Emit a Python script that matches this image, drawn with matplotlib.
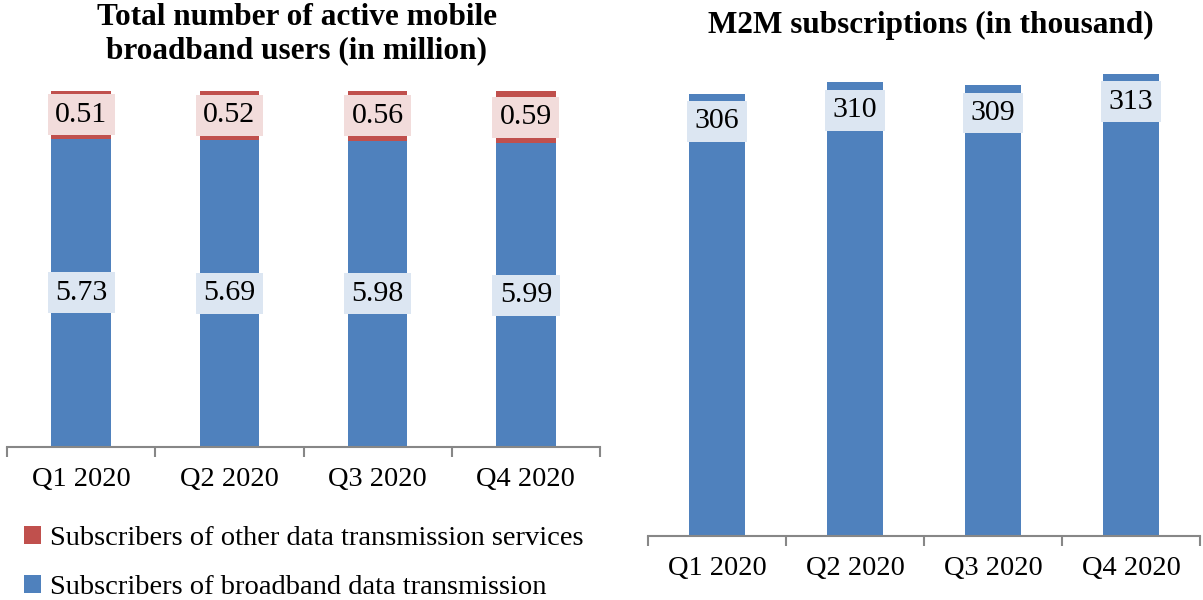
import matplotlib
matplotlib.use("Agg")
import matplotlib.pyplot as plt
import numpy as np

quarters = ["Q1 2020", "Q2 2020", "Q3 2020", "Q4 2020"]
broadband = [5.73, 5.69, 5.98, 5.99]   # million
other_data = [0.51, 0.52, 0.56, 0.59]  # million
m2m = [306, 310, 309, 313]             # thousand

BLUE = "#4f81bd"
RED = "#c0504d"
BLUE_BOX = "#dce6f2"
RED_BOX = "#f2dcdb"
AXIS_GREY = "#878787"
FONT = "Liberation Serif"
FS = 20.5
LABEL_FS = 21.5
TITLE_FS = 22.5

plt.rcParams["font.family"] = [FONT, "DejaVu Serif"]

fig = plt.figure(figsize=(12.03, 6.0), dpi=100)
W, H = 1203, 600

def style_axis(ax):
    ax.set_xlim(-0.5, len(quarters) - 0.5)
    for s in ("left", "right", "top"):
        ax.spines[s].set_visible(False)
    ax.spines["bottom"].set_color(AXIS_GREY)
    ax.spines["bottom"].set_linewidth(1.5)
    ax.set_yticks([])
    ax.set_xticks(range(len(quarters)))
    ax.set_xticklabels(quarters, fontsize=FS)
    ax.tick_params(axis="x", which="major", length=0, pad=14.5)
    ax.set_xticks(np.arange(-0.5, len(quarters)), minor=True)
    ax.tick_params(axis="x", which="minor", length=7, width=1.5, color=AXIS_GREY)

# --- left: stacked shares of mobile broadband users ---
ax1 = fig.add_axes([7 / W, 1 - 447 / H, (600 - 7) / W, (447 - 91) / H])
x = np.arange(len(quarters))
bb = np.array(broadband)
ot = np.array(other_data)
total = bb + ot
bb_share = bb / total
ymin1 = 0.388
ax1.bar(x, bb_share, width=0.4, color=BLUE, label="Subscribers of broadband data transmission")
ax1.bar(x, 1 - bb_share, bottom=bb_share, width=0.4, color=RED,
        label="Subscribers of other data transmission services")
ax1.set_ylim(ymin1, 1.0)
style_axis(ax1)

for i in range(len(quarters)):
    ax1.text(x[i], (ymin1 + bb_share[i]) / 2, f"{broadband[i]:.2f}", ha="center", va="center",
             fontsize=LABEL_FS, bbox=dict(boxstyle="square,pad=0.25", fc=BLUE_BOX, ec="none"))
    ax1.text(x[i], (bb_share[i] + 1) / 2, f"{other_data[i]:.2f}", ha="center", va="center",
             fontsize=LABEL_FS, bbox=dict(boxstyle="square,pad=0.25", fc=RED_BOX, ec="none"))

handles, labels = ax1.get_legend_handles_labels()
fig.legend(handles[::-1], labels[::-1], loc="upper left",
           bbox_to_anchor=(24 / W, 1 - 526 / H), frameon=False, fontsize=FS,
           handlelength=0.6, handleheight=0.6, handletextpad=0.3,
           labelspacing=0.85, borderpad=0, borderaxespad=0)

fig.text(297 / W, 1 - 34 / H, "Total number of active mobile\nbroadband users (in million)",
         ha="center", va="center", fontsize=TITLE_FS, fontweight="bold", linespacing=1.2)

# --- right: M2M subscriptions ---
ax2 = fig.add_axes([648 / W, 1 - 536 / H, (1200 - 648) / W, (536 - 60) / H])
ax2.bar(x, m2m, width=0.4, color=BLUE)
ax2.set_ylim(148, 148 + (536 - 60) / 2.8)
style_axis(ax2)
for i in range(len(quarters)):
    ax2.annotate(f"{m2m[i]}", (x[i], m2m[i]), xytext=(0, -20), textcoords="offset points",
                 ha="center", va="center", fontsize=LABEL_FS,
                 bbox=dict(boxstyle="square,pad=0.25", fc=BLUE_BOX, ec="none"))

fig.text(931 / W, 1 - 25 / H, "M2M subscriptions (in thousand)",
         ha="center", va="center", fontsize=TITLE_FS, fontweight="bold")

fig.savefig("out.png", dpi=100)
